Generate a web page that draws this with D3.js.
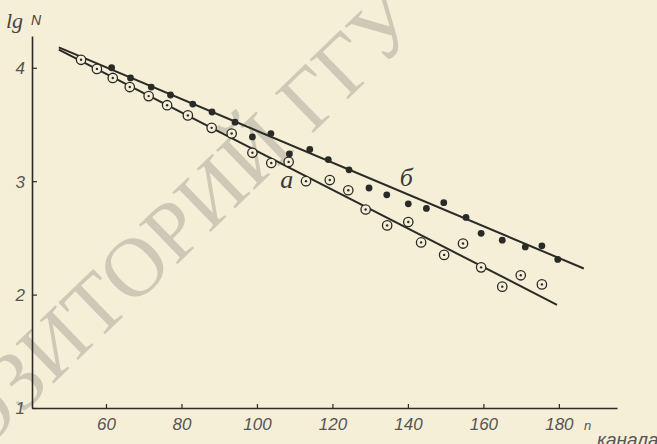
<!DOCTYPE html>
<html><head><meta charset="utf-8">
<script src="https://cdn.jsdelivr.net/npm/d3@7/dist/d3.min.js"></script>
<style>
html,body{margin:0;padding:0;background:#f6efd8;}
svg{display:block;}
</style></head>
<body>
<script>
// Series б (filled dots)
const bX = [61.5,66.5,72.0,77.1,83.0,88.1,94.2,98.8,103.7,108.6,114.0,118.9,124.4,129.7,134.4,140.1,144.9,149.5,155.4,159.4,165.0,171.1,175.5,179.7];
const bY = [4.00,3.91,3.83,3.76,3.68,3.61,3.52,3.39,3.42,3.24,3.28,3.19,3.10,2.94,2.88,2.80,2.76,2.81,2.68,2.54,2.48,2.42,2.43,2.31];
// Series а (circled dots)
const aX = [53.4,57.6,61.8,66.3,71.3,76.2,81.7,88.0,93.3,98.8,103.8,108.4,113.0,119.3,124.2,128.8,134.5,140.1,143.5,149.6,154.6,159.4,165.0,169.9,175.5];
const aY = [4.07,3.99,3.91,3.83,3.75,3.67,3.58,3.47,3.42,3.25,3.16,3.17,3.00,3.01,2.92,2.75,2.61,2.64,2.46,2.35,2.45,2.24,2.07,2.17,2.09];
// Fitted lines (endpoints)
const lineB = [[47.5,4.18],[186.6,2.23]];
const lineA = [[47.5,4.16],[179.5,1.91]];
// Ticks
const xTicks = [60,80,100,120,140,160,180];
const yTicks = [1,2,3,4];
const labelA = {x:107.9, y:2.94, t:"а"};
const labelB = {x:139.6, y:2.955, t:"б"};

const W=657,H=444;
const ink="#2a2b27";
const bg="#f6efd8";
const svg=d3.select("body").append("svg").attr("width",W).attr("height",H);
svg.append("rect").attr("width",W).attr("height",H).attr("fill",bg);

// watermark
svg.append("text").text("РЕПОЗИТОРИЙ ГГУ")
  .attr("transform","translate(124,276) rotate(-44)")
  .attr("text-anchor","middle").attr("dominant-baseline","central")
  .attr("font-family","Liberation Serif").attr("font-size",84)
  .attr("fill","#c9c5b3").attr("opacity",0.9);

const x=d3.scaleLinear().domain([40.4,195.4]).range([32,617]);
const y=d3.scaleLinear().domain([1,4.28]).range([408,36]);

const xAxis=svg.append("g").attr("transform","translate(0,408)")
  .call(d3.axisBottom(x).tickValues(xTicks).tickSizeInner(-4).tickSizeOuter(0).tickFormat(d3.format("d")));
const yAxis=svg.append("g").attr("transform","translate(32,0)")
  .call(d3.axisLeft(y).tickValues(yTicks).tickSizeInner(-5).tickSizeOuter(0).tickFormat(d3.format("d")));
[xAxis,yAxis].forEach(g=>{
  g.select(".domain").attr("stroke",ink).attr("stroke-width",1.6);
  g.selectAll(".tick line").attr("stroke",ink).attr("stroke-width",1.2);
  g.selectAll(".tick text").attr("fill","#555").attr("font-family","Liberation Sans")
   .attr("font-style","italic").attr("font-size",17);
});
xAxis.selectAll(".tick text").attr("y",10).attr("dy","0.71em");
yAxis.selectAll(".tick text").attr("x",-7).attr("dy","0.35em");

// lines
const ln=d3.line().x(d=>x(d[0])).y(d=>y(d[1]));
[lineB,lineA].forEach(L=>{
  svg.append("path").attr("d",ln(L)).attr("stroke",ink).attr("stroke-width",2).attr("fill","none");
});

// points б
svg.append("g").selectAll("circle").data(bX.map((v,i)=>[v,bY[i]])).join("circle")
  .attr("cx",d=>x(d[0])).attr("cy",d=>y(d[1])).attr("r",3.4).attr("fill",ink);
// points а
const ga=svg.append("g").selectAll("g").data(aX.map((v,i)=>[v,aY[i]])).join("g")
  .attr("transform",d=>`translate(${x(d[0])},${y(d[1])})`);
ga.append("circle").attr("r",4.7).attr("fill",bg).attr("stroke",ink).attr("stroke-width",1.3);
ga.append("circle").attr("r",1.2).attr("fill",ink);

// curve labels
[labelA,labelB].forEach(l=>{
  svg.append("text").text(l.t).attr("x",x(l.x)).attr("y",y(l.y))
   .attr("font-family","Liberation Serif").attr("font-style","italic").attr("font-size",26)
   .attr("fill","#3a3a36").attr("text-anchor","middle");
});

// axis titles
svg.append("text").attr("x",6).attr("y",28).text("lg")
  .attr("font-family","Liberation Serif").attr("font-style","italic").attr("font-size",22).attr("fill","#444");
svg.append("text").attr("x",31).attr("y",25).text("N")
  .attr("font-family","Liberation Sans").attr("font-style","italic").attr("font-size",14).attr("fill","#444");
svg.append("text").attr("x",584).attr("y",430).text("n")
  .attr("font-family","Liberation Sans").attr("font-style","italic").attr("font-size",13).attr("fill","#555");
svg.append("text").attr("x",597).attr("y",446).text("канала")
  .attr("font-family","Liberation Sans").attr("font-style","italic").attr("font-size",19).attr("fill","#555");
</script>
</body></html>
